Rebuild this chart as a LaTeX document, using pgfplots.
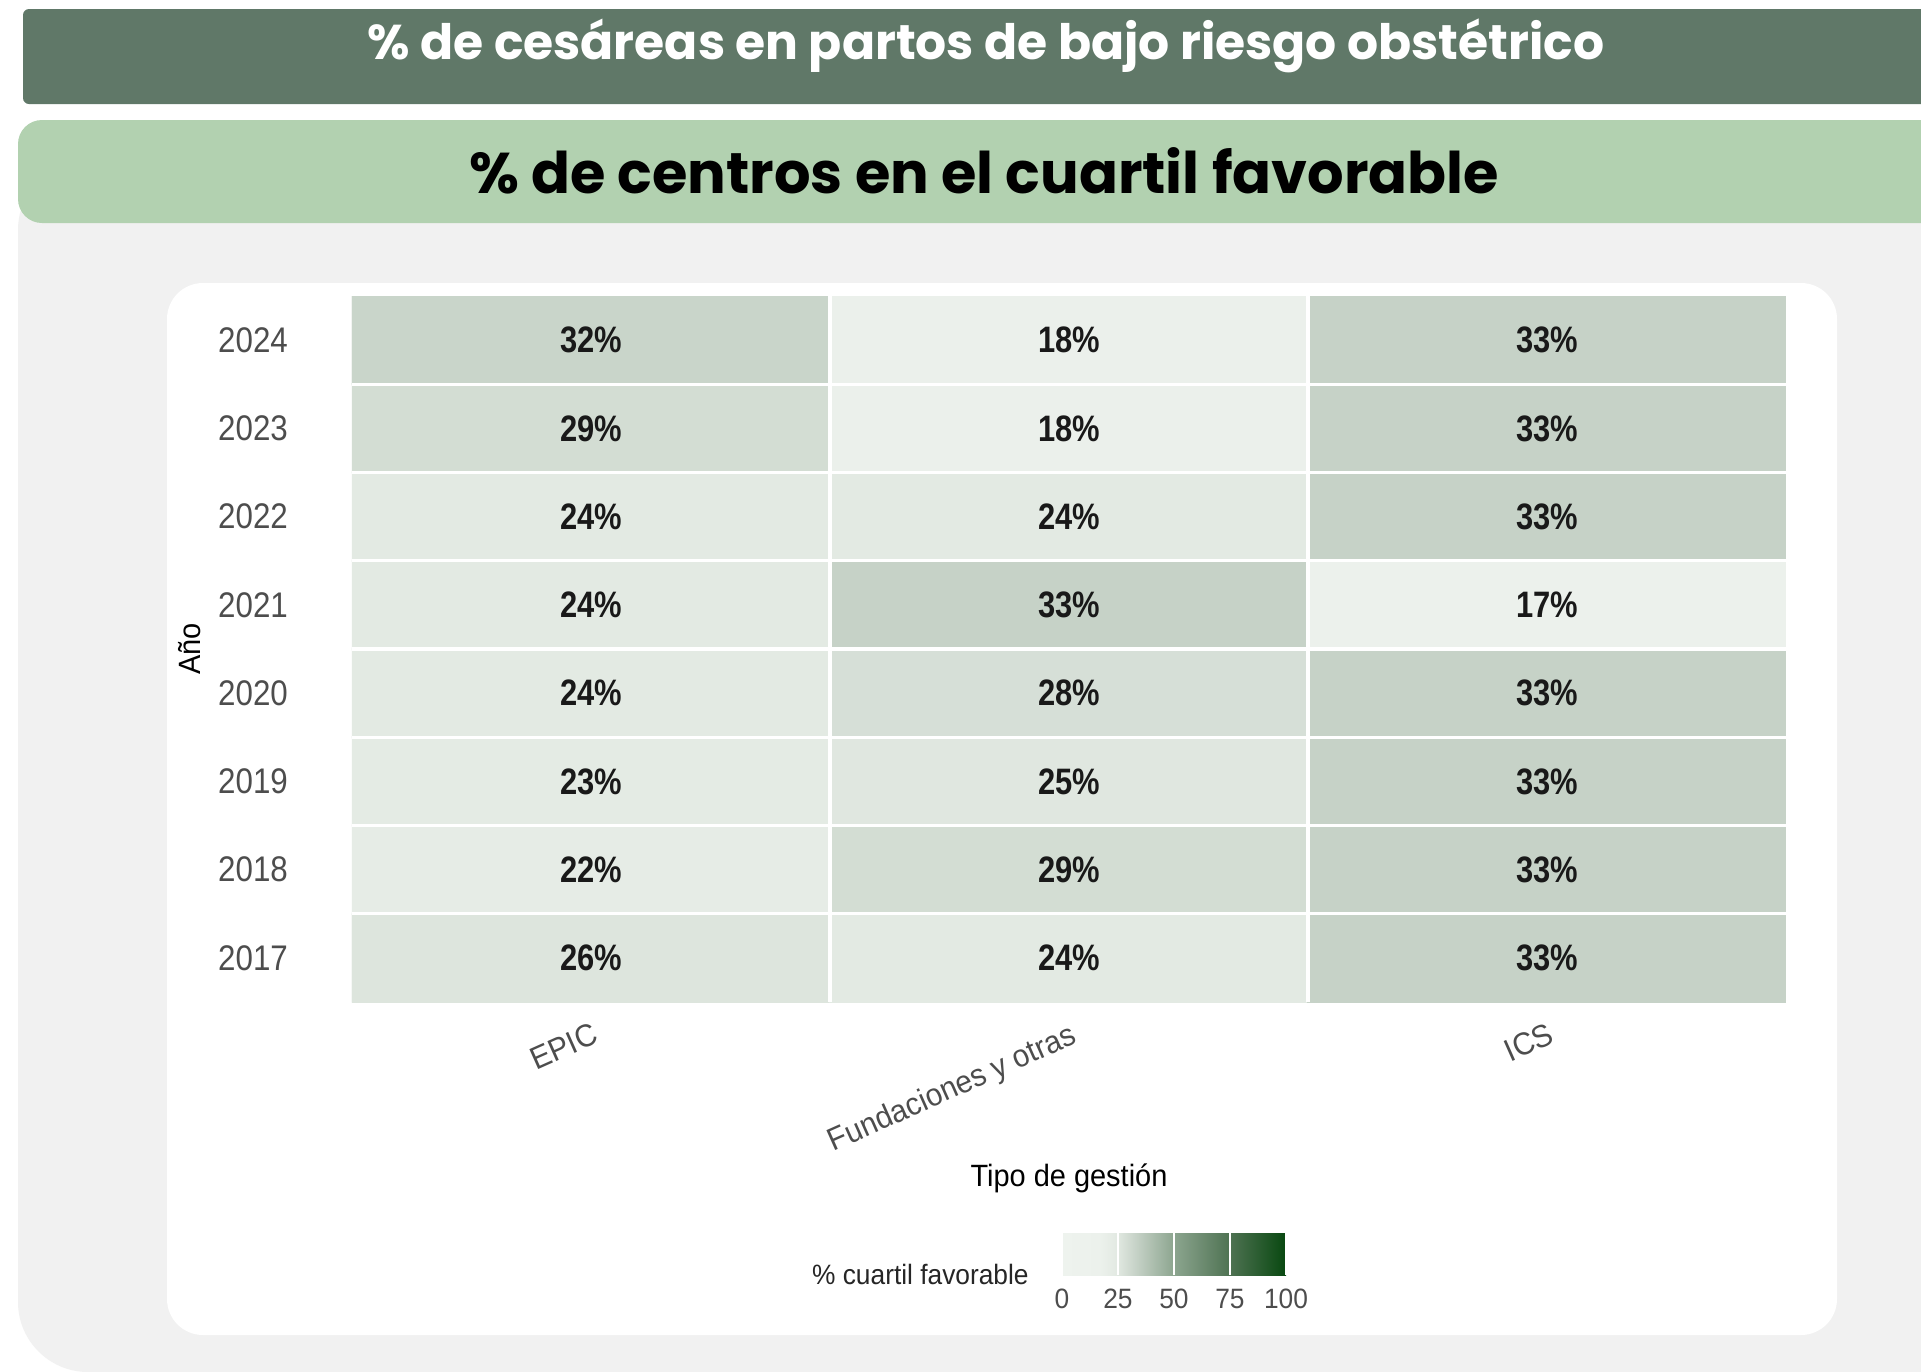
\documentclass[border=0pt]{standalone}
\usepackage{pgfplots}
\pgfplotsset{compat=1.18}
\usepackage{pgfplotstable}
\usepackage{fontspec}
\setmainfont{Liberation Sans}
\newfontfamily\poppins{Poppins}
\newfontfamily\numfont{Liberation Sans}[FakeStretch=0.88]
\newfontfamily\valfont{Liberation Sans}[FakeStretch=0.84]
\newfontfamily\labfont{Liberation Sans}[FakeStretch=0.94]
\definecolor{gray30}{HTML}{4D4D4D}
\definecolor{darkban}{HTML}{607868}
\definecolor{lightban}{HTML}{B2D1B0}
\definecolor{bggray}{HTML}{F1F1F1}

% % de centros en el cuartil favorable: x = tipo de gestion, y = anio (0 = 2017)
\pgfplotstableread{
x y v
0 0 26
1 0 24
2 0 33
0 1 22
1 1 29
2 1 33
0 2 23
1 2 25
2 2 33
0 3 24
1 3 28
2 3 33
0 4 24
1 4 33
2 4 17
0 5 24
1 5 24
2 5 33
0 6 29
1 6 18
2 6 33
0 7 32
1 7 18
2 7 33
}\cuartil

\begin{document}
\begin{tikzpicture}
\clip (0,0) rectangle (480.25pt,-343pt);
\fill[white] (0,0) rectangle (480.25pt,-343pt);
% fondo gris y bandas de titulo
\fill[bggray, rounded corners=17.5pt] (4.5pt,-40pt) rectangle (520pt,-343pt);
\fill[darkban, rounded corners=1.5pt] (5.75pt,-2.25pt) rectangle (490pt,-26pt);
\fill[lightban, rounded corners=6pt] (4.5pt,-30pt) rectangle (490pt,-55.75pt);
\fill[white, rounded corners=9pt] (41.75pt,-70.75pt) rectangle (459.25pt,-333.75pt);
\node[anchor=base, text=white, font=\poppins\bfseries\fontsize{12.2}{14}\selectfont]
  at (246.5pt,-14.75pt) {\% de cesáreas en partos de bajo riesgo obstétrico};
\node[anchor=base, text=black, font=\poppins\bfseries\fontsize{14.35}{16}\selectfont]
  at (246pt,-48.25pt) {\% de centros en el cuartil favorable};

\begin{axis}[
    at={(88pt,-250.5pt)}, anchor=south west,
    scale only axis, width=358.5pt, height=176.5pt,
    xmin=-0.5, xmax=2.5, ymin=-0.5, ymax=7.5,
    enlargelimits=false,
    axis line style={draw=none},
    axis on top,
    xtick={0,1,2},
    xticklabels={EPIC, Fundaciones y otras, ICS},
    ytick={0,1,2,3,4,5,6,7},
    yticklabels={2017,2018,2019,2020,2021,2022,2023,2024},
    minor xtick={0.5,1.5},
    minor ytick={0.5,1.5,2.5,3.5,4.5,5.5,6.5},
    xminorgrids, yminorgrids,
    minor grid style={white, line width=0.8pt},
    major tick length=0pt, minor tick length=0pt,
    xticklabel style={rotate=24, anchor=north east, text=gray30,
        font=\labfont\fontsize{7.9}{9}\selectfont, xshift=1.5pt, yshift=-1pt},
    yticklabel style={anchor=east, text=gray30,
        font=\numfont\fontsize{8.9}{10}\selectfont, xshift=-12.5pt},
    xlabel={Tipo de gestión},
    xlabel style={at={(axis description cs:0.5,-0.262)}, anchor=base,
        font=\labfont\fontsize{7.7}{9}\selectfont},
    ylabel={Año},
    ylabel style={at={(axis description cs:-0.113,0.5)}, anchor=center,
        font=\labfont\fontsize{7.7}{9}\selectfont},
    /pgf/number format/assume math mode=true,
    colormap={cuartil}{rgb255(0pt)=(238,243,238) rgb255(17pt)=(236,241,236)
        rgb255(24pt)=(227,234,227) rgb255(33pt)=(198,210,199)
        rgb255(50pt)=(140,165,143) rgb255(75pt)=(78,114,82)
        rgb255(100pt)=(8,72,16)},
    point meta min=0, point meta max=100,
    colorbar horizontal,
    colorbar style={
        at={(parent axis.south west)}, anchor=north west,
        xshift=177.5pt, yshift=-49.25pt,
        scale only axis, width=56pt, height=10.5pt,
        xtick={0,25,50,75,100},
        major tick length=10.5pt, tick align=inside,
        xtick style={draw=white, line width=0.4pt},
        axis line style={draw=none},
        xticklabel style={text=gray30, font=\labfont\fontsize{7}{8}\selectfont, yshift=0pt},
        /pgf/number format/assume math mode=true,
    },
]
\addplot[matrix plot*, mesh/cols=3, point meta=explicit]
    table[x=x, y=y, meta=v] {\cuartil};
\addplot[only marks, mark=*, mark size=0pt, mark options={draw=none, fill=none},
    point meta=explicit,
    nodes near coords={\pgfmathprintnumber{\pgfplotspointmeta}\%},
    every node near coord/.append style={anchor=center, text=black!90,
        font=\valfont\bfseries\fontsize{9.2}{10}\selectfont}]
    table[x=x, y=y, meta=v] {\cuartil};
\end{axis}
\node[anchor=base, text=black!85, font=\labfont\fontsize{7}{8}\selectfont]
  at (230.1pt,-321pt) {\% cuartil favorable};
\end{tikzpicture}
\end{document}
